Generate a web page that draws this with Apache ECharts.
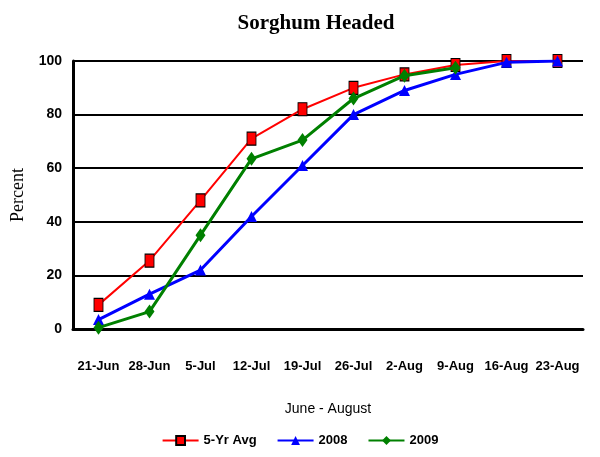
<!DOCTYPE html>
<html>
<head>
<meta charset="utf-8">
<script src="https://cdn.jsdelivr.net/npm/echarts@6/dist/echarts.min.js"></script>
<style>
  html, body { margin: 0; padding: 0; background: #fff; }
  #chart { width: 600px; height: 457px; }
</style>
</head>
<body>
<div id="chart"></div>
<script>
const weeks = ["21-Jun", "28-Jun", "5-Jul", "12-Jul", "19-Jul", "26-Jul", "2-Aug", "9-Aug", "16-Aug", "23-Aug"];
const avg5yr = [9, 25.5, 48, 71, 82, 90, 95, 98.5, 100, 100];
const y2008 = [3.5, 13, 22, 42, 61, 80, 89, 95, 99.5, 100];
const y2009 = [0.5, 6.5, 35, 63.5, 70.5, 86, 94.5, 97.5];
const yTicks = [0, 20, 40, 60, 80, 100];

const SANS = "'Liberation Sans', Arial, sans-serif";

const chart = echarts.init(document.getElementById("chart"));

chart.setOption({
  animation: false,
  title: {
    text: "Sorghum Headed",
    left: 311,
    textAlign: "center",
    top: 8,
    textStyle: { fontFamily: "'Liberation Serif', serif", fontWeight: "bold", fontSize: 21, color: "#000" },
  },
  legend: {
    bottom: 5,
    left: "center",
    itemWidth: 36,
    itemHeight: 11,
    itemGap: 20,
    textStyle: { fontFamily: SANS, fontWeight: "bold", fontSize: 13, color: "#000" },
    data: ["5-Yr Avg", "2008", "2009"],
  },
  grid: { left: 73, right: 17, top: 61, bottom: 128 },
  xAxis: {
    type: "category",
    data: weeks,
    boundaryGap: true,
    name: "June - August",
    nameLocation: "middle",
    nameGap: 73,
    nameTextStyle: { fontFamily: SANS, fontSize: 14, color: "#000" },
    axisLine: { lineStyle: { color: "#000", width: 3 } },
    axisTick: { show: false },
    axisLabel: { interval: 0, margin: 31, fontFamily: SANS, fontWeight: "bold", fontSize: 13, color: "#000" },
  },
  yAxis: {
    type: "value",
    min: 0,
    max: 100,
    interval: 20,
    name: "Percent",
    nameLocation: "middle",
    nameGap: 46,
    nameTextStyle: { fontFamily: "'Liberation Serif', serif", fontSize: 18, color: "#000" },
    axisLine: { show: true, lineStyle: { color: "#000", width: 3 } },
    axisTick: { show: false },
    axisLabel: {
      margin: 11,
      fontFamily: SANS,
      fontWeight: "bold",
      fontSize: 14,
      color: "#000",
      formatter: (v) => (yTicks.includes(v) ? String(v) : ""),
    },
    splitLine: { lineStyle: { color: "#000", width: 2 } },
  },
  series: [
    {
      name: "5-Yr Avg",
      type: "line",
      data: avg5yr,
      symbol: "rect",
      symbolSize: [9, 13],
      itemStyle: { color: "#ff0000", borderColor: "#000", borderWidth: 1 },
      lineStyle: { color: "#ff0000", width: 2 },
      z: 3,
    },
    {
      name: "2008",
      type: "line",
      data: y2008,
      symbol: "triangle",
      symbolSize: 11,
      itemStyle: { color: "#0000ff" },
      lineStyle: { color: "#0000ff", width: 3 },
      z: 4,
    },
    {
      name: "2009",
      type: "line",
      data: y2009,
      symbol: "diamond",
      symbolSize: [10, 14],
      itemStyle: { color: "#008000" },
      lineStyle: { color: "#008000", width: 3 },
      z: 5,
    },
  ],
});
</script>
</body>
</html>
